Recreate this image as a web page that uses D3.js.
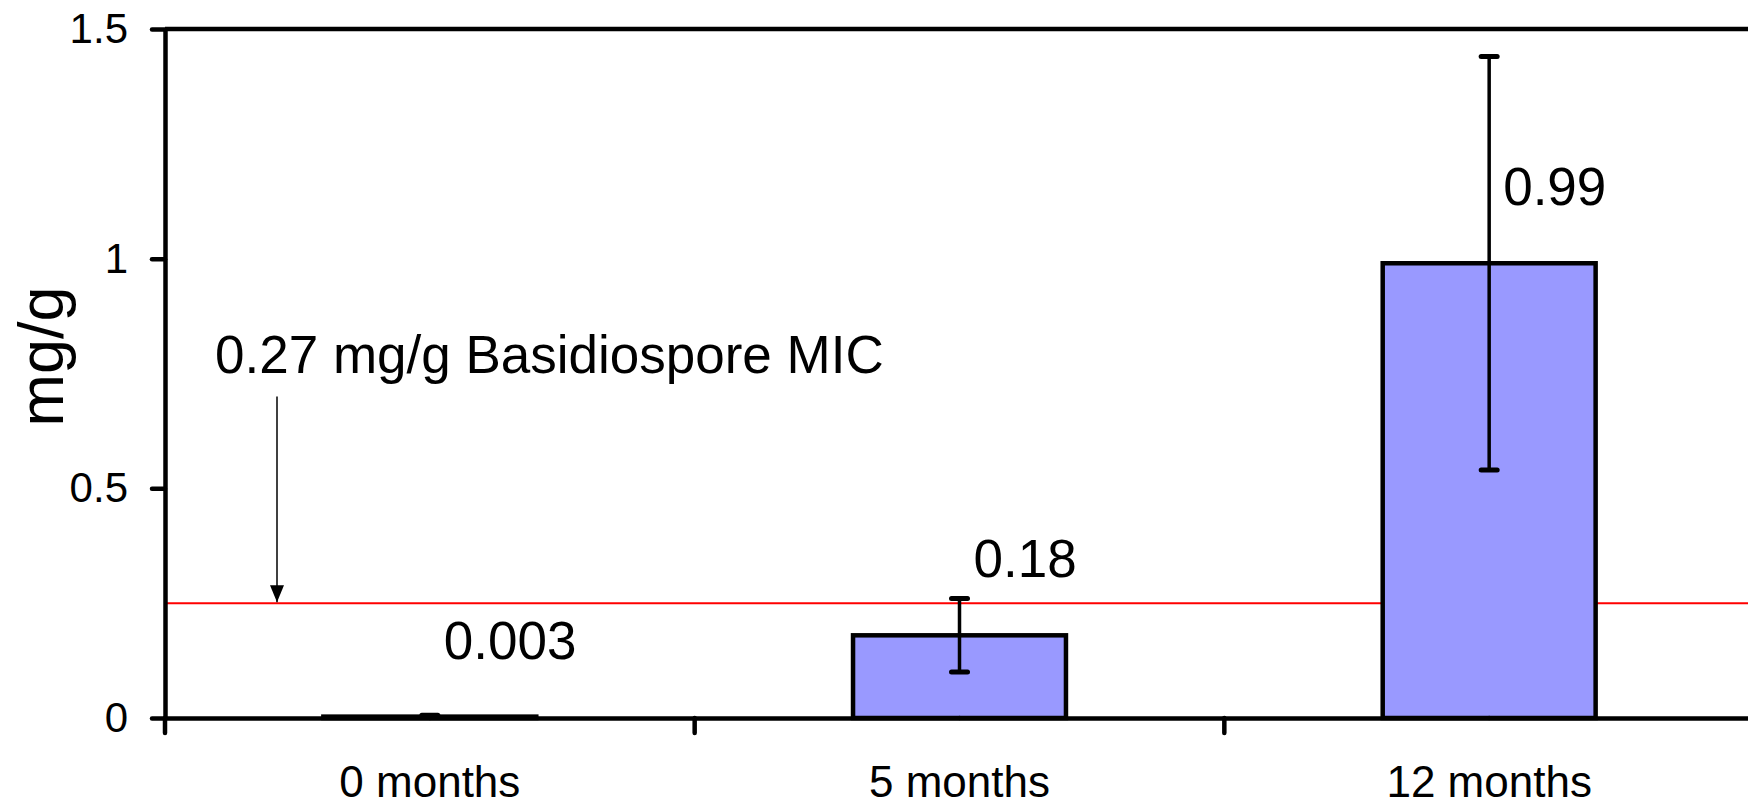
<!DOCTYPE html>
<html>
<head>
<meta charset="utf-8">
<script src="https://cdn.jsdelivr.net/npm/d3@7"></script>
<style>
  html, body { margin: 0; padding: 0; background: #fff; overflow: hidden; }
  text { font-family: "Liberation Sans", Arial, sans-serif; fill: #000; }
</style>
</head>
<body>
<svg id="svg" width="1748" height="805"></svg>
<script>
// chart data
const categories = ["0 months", "5 months", "12 months"];
const values = [0.003, 0.18, 0.99];
const errLow = [0.001, 0.10, 0.54];
const errHigh = [0.006, 0.26, 1.44];
const valueLabels = ["0.003", "0.18", "0.99"];
const yTicks = [0, 0.5, 1, 1.5];
const micValue = 0.25;
const micLabel = "0.27 mg/g Basidiospore MIC";

// visual constants
const dims = { width: 1748, height: 805 };
const margins = { left: 165, top: 29, bottom: 87 };
const plotRight = 1754;

let mySvg = d3.select('#svg');

let xScale = d3.scaleBand()
    .domain(categories)
    .range([margins.left, plotRight])
    .paddingInner(0.598)
    .paddingOuter(0.299);
let yScale = d3.scaleLinear()
    .domain([0, 1.5])
    .range([dims.height - margins.bottom, margins.top]);

const y0 = yScale(0);
const cx = (d) => xScale(d) + xScale.bandwidth() / 2;

// top frame line
mySvg.append("line")
    .attr("x1", margins.left).attr("x2", dims.width)
    .attr("y1", yScale(1.5)).attr("y2", yScale(1.5))
    .attr("stroke", "#000").attr("stroke-width", 4.5);

// red MIC line
mySvg.append("line")
    .attr("x1", margins.left).attr("x2", dims.width)
    .attr("y1", yScale(micValue)).attr("y2", yScale(micValue))
    .attr("stroke", "#ff0000").attr("stroke-width", 2);

// bars
mySvg.selectAll("rect.bar")
    .data(values)
    .enter().append("rect")
    .attr("class", "bar")
    .attr("x", (d, i) => xScale(categories[i]))
    .attr("y", (d) => yScale(d))
    .attr("width", xScale.bandwidth())
    .attr("height", (d) => y0 - yScale(d))
    .attr("fill", "#9999ff")
    .attr("stroke", "#000")
    .attr("stroke-width", 4.5);

// error bars
let errs = mySvg.append("g");
categories.forEach((c, i) => {
    errs.append("line")
        .attr("x1", cx(c)).attr("x2", cx(c))
        .attr("y1", yScale(errLow[i])).attr("y2", yScale(errHigh[i]))
        .attr("stroke", "#000").attr("stroke-width", 3.5);
    [errLow[i], errHigh[i]].forEach(v => {
        errs.append("line")
            .attr("x1", cx(c) - 8).attr("x2", cx(c) + 8)
            .attr("y1", yScale(v)).attr("y2", yScale(v))
            .attr("stroke", "#000").attr("stroke-width", 5)
            .attr("stroke-linecap", "round");
    });
});

// value labels
mySvg.selectAll("text.val")
    .data(values)
    .enter().append("text")
    .attr("class", "val")
    .attr("x", (d, i) => cx(categories[i]) + 14)
    .attr("y", (d) => yScale(d) - 58)
    .attr("font-size", 53)
    .text((d, i) => valueLabels[i]);

// y axis
let yAxis = d3.axisLeft(yScale)
    .tickValues(yTicks)
    .tickFormat(d3.format("~g"))
    .tickSize(13)
    .tickSizeOuter(0)
    .tickPadding(24);
let yg = mySvg.append("g")
    .attr("transform", `translate(${margins.left},0)`)
    .call(yAxis);
yg.selectAll("text").attr("font-size", 42).style("font-family", "Liberation Sans, Arial, sans-serif");

// x axis
let xAxis = d3.axisBottom(xScale)
    .tickSize(0)
    .tickSizeOuter(0)
    .tickPadding(48);
let xg = mySvg.append("g")
    .attr("transform", `translate(0,${y0})`)
    .call(xAxis);
xg.selectAll("text").attr("font-size", 44).style("font-family", "Liberation Sans, Arial, sans-serif");

// x ticks at band boundaries
const bounds = d3.range(categories.length + 1).map(i => margins.left + i * xScale.step());
mySvg.selectAll("line.xtick")
    .data(bounds)
    .enter().append("line")
    .attr("class", "xtick")
    .attr("x1", d => d).attr("x2", d => d)
    .attr("y1", y0).attr("y2", y0 + 15)
    .attr("stroke", "#000").attr("stroke-width", 4.5)
    .attr("stroke-linecap", "round");

[yg, xg].forEach(g => {
    g.select(".domain").attr("stroke-width", 4.5);
    g.selectAll(".tick line").attr("stroke-width", 4.5).attr("stroke-linecap", "round");
});

// y axis title
mySvg.append("text")
    .attr("transform", `translate(63, ${(yScale(0) + yScale(1.5)) / 2 - 17}) rotate(-90)`)
    .attr("text-anchor", "middle")
    .attr("font-size", 63)
    .text("mg/g");

// MIC annotation and arrow
mySvg.append("defs").append("marker")
    .attr("id", "arrow")
    .attr("viewBox", "0 0 14 17")
    .attr("refX", 7).attr("refY", 17)
    .attr("markerWidth", 14).attr("markerHeight", 17)
    .attr("markerUnits", "userSpaceOnUse")
    .attr("orient", "0")
    .append("path")
    .attr("d", "M0,0 L14,0 L7,17 Z")
    .attr("fill", "#000");

const arrowX = margins.left + 112;
mySvg.append("line")
    .attr("x1", arrowX).attr("x2", arrowX)
    .attr("y1", yScale(0.70)).attr("y2", yScale(micValue) - 1)
    .attr("stroke", "#000").attr("stroke-width", 1.5)
    .attr("marker-end", "url(#arrow)");

mySvg.append("text")
    .attr("x", margins.left + 50)
    .attr("y", yScale(0.752))
    .attr("font-size", 53)
    .text(micLabel);
</script>
</body>
</html>
